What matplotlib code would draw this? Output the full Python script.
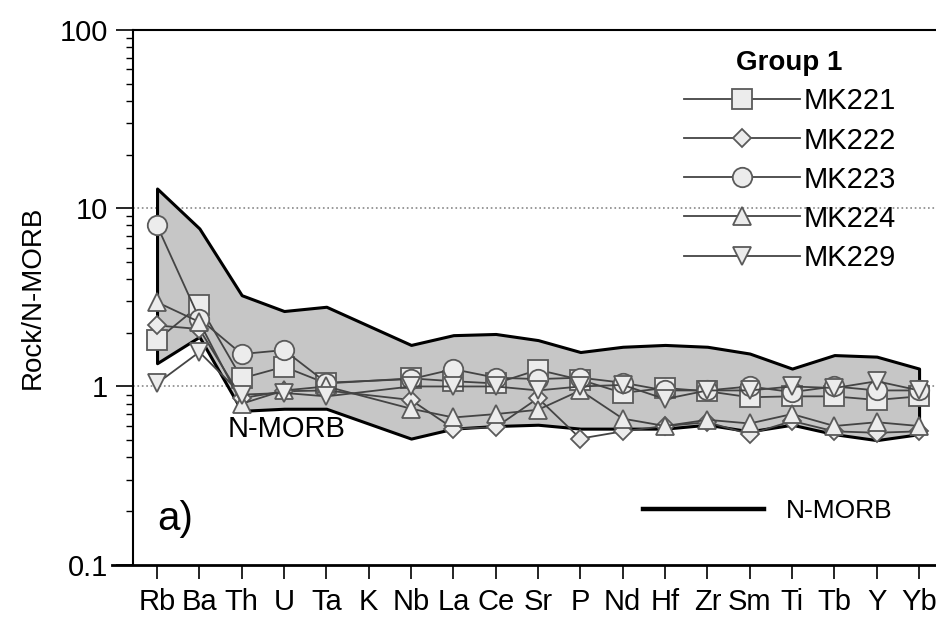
import matplotlib
matplotlib.use("Agg")
import matplotlib.pyplot as plt
import numpy as np
from matplotlib.lines import Line2D

plt.rcParams['font.family'] = ['Liberation Sans', 'DejaVu Sans']

# elements on the spider diagram (K has no data)
elements = ['Rb', 'Ba', 'Th', 'U', 'Ta', 'K', 'Nb', 'La', 'Ce', 'Sr', 'P',
            'Nd', 'Hf', 'Zr', 'Sm', 'Ti', 'Tb', 'Y', 'Yb']
nan = np.nan

# N-MORB field (upper / lower envelope)
morb_upper = [12.9, 7.7, 3.25, 2.65, 2.8, nan, 1.71, 1.94, 1.97, 1.82, 1.56,
              1.67, 1.71, 1.67, 1.53, 1.26, 1.5, 1.47, 1.26]
morb_lower = [1.35, 1.9, 0.73, 0.75, 0.75, nan, 0.51, 0.58, 0.6, 0.61, 0.58,
              0.58, 0.58, 0.61, 0.56, 0.61, 0.54, 0.5, 0.54]

# Group 1 samples, normalised to N-MORB
mk221 = [1.82, 2.85, 1.11, 1.29, 1.04, nan, 1.11, 1.07, 1.04, 1.24, 1.09,
         0.92, 0.98, 0.94, 0.87, 0.88, 0.88, 0.84, 0.88]
mk222 = [2.2, 2.1, 0.86, 0.94, 0.95, nan, 0.84, 0.58, 0.59, 0.86, 0.51,
         0.56, 0.6, 0.63, 0.54, 0.64, 0.56, 0.55, 0.56]
mk223 = [8.0, 2.4, 1.52, 1.6, 1.05, nan, 1.1, 1.25, 1.12, 1.1, 1.12,
         1.05, 0.95, 0.95, 1.0, 0.93, 1.0, 0.95, 0.95]
mk224 = [2.97, 2.3, 0.8, 0.95, 1.0, nan, 0.75, 0.67, 0.7, 0.74, 0.95,
         0.66, 0.6, 0.65, 0.62, 0.7, 0.6, 0.63, 0.6]
mk229 = [1.04, 1.56, 0.9, 0.92, 0.88, nan, 1.0, 1.0, 1.0, 0.95, 1.0,
         1.02, 0.85, 0.95, 0.95, 1.0, 0.98, 1.07, 0.95]

samples = [('MK221', mk221, 's', 14), ('MK222', mk222, 'D', 9),
           ('MK223', mk223, 'o', 14), ('MK224', mk224, '^', 13),
           ('MK229', mk229, 'v', 13)]

fig = plt.figure(figsize=(9.36, 6.24), dpi=100)
ax = fig.add_axes([0.142, 0.095, 0.858, 0.857])

x = np.arange(len(elements))
up = np.array(morb_upper)
lo = np.array(morb_lower)
ok = ~np.isnan(up)

ax.fill_between(x[ok], lo[ok], up[ok], facecolor='#c6c6c6',
                edgecolor='black', linewidth=2.2, zorder=1)

for name, vals, marker, ms in samples:
    v = np.array(vals)
    m = ~np.isnan(v)
    ax.plot(x[m], v[m], color='#444444', linewidth=1.3, marker=marker,
            markersize=ms, markerfacecolor='#ececec', markeredgecolor='#5a5a5a',
            markeredgewidth=1.3, label=name, zorder=3)

# dotted reference lines
for yv in (1, 10):
    ax.axhline(yv, color='#888888', linestyle=':', linewidth=1.2, zorder=0.5)

ax.set_yscale('log')
ax.set_ylim(0.1, 100)
ax.set_xlim(-0.57, 18.4)
ax.set_yticks([0.1, 1, 10, 100])
ax.set_yticklabels(['0.1', '1', '10', '100'])
ax.set_xticks(x)
ax.set_xticklabels(elements)
ax.tick_params(axis='x', direction='out', length=10, width=1.2, pad=7,
               labelsize=21)
ax.tick_params(axis='y', which='major', direction='out', length=12, width=1.2,
               pad=6, labelsize=21)
ax.tick_params(axis='y', which='minor', direction='out', length=5, width=1)

ax.spines['right'].set_visible(False)
ax.spines['bottom'].set_visible(False)
ax.spines['left'].set_linewidth(1.5)
ax.spines['top'].set_linewidth(1.5)
# bottom axis line runs a little past the y axis
ax.add_line(Line2D([-0.026, 1.0], [0, 0], transform=ax.transAxes,
                   color='black', linewidth=2, clip_on=False))

ax.set_ylabel('Rock/N-MORB', fontsize=20, labelpad=10)

ax.text(3.05, 0.575, 'N-MORB', fontsize=21, ha='center', va='center', zorder=4)
ax.text(0.03, 0.085, 'a)', fontsize=29, transform=ax.transAxes,
        ha='left', va='center')

leg = ax.legend(loc='upper right', bbox_to_anchor=(0.975, 1.0), frameon=False,
                title='Group 1', fontsize=21, handlelength=4.0,
                labelspacing=0.38, handletextpad=0.1, borderpad=0.2)
leg.get_title().set_fontsize(20)
leg.get_title().set_fontweight('bold')
ax.add_artist(leg)

morb_handle = Line2D([], [], color='black', linewidth=3.2)
ax.legend([morb_handle], ['N-MORB'], loc='center right',
          bbox_to_anchor=(0.975, 0.1), frameon=False, fontsize=19,
          handlelength=4.6, handletextpad=0.8)

fig.savefig('out.png', dpi=100)
